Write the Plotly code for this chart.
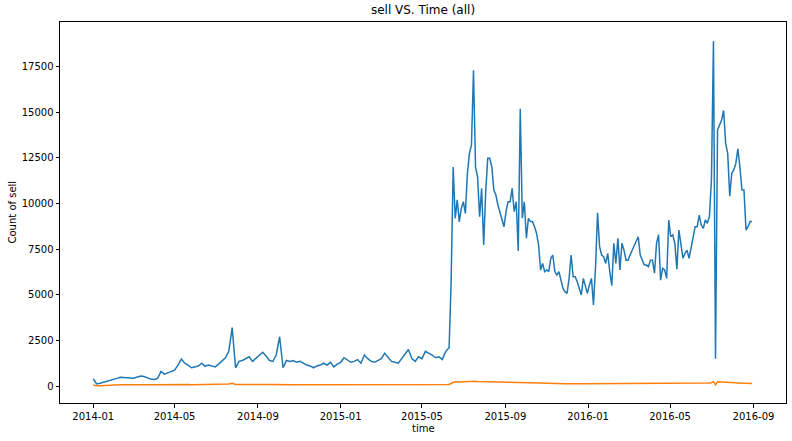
import pandas as pd
import plotly.graph_objects as go

# blue line, read every 5 days from 2014-01-01 up to 2015-06-10
sell_early = [
    400, 110, 150, 200, 250, 300, 330, 420, 480, 460,
    440, 450, 430, 500, 550, 520, 430, 380, 360, 420,
    800, 650, 720, 780, 870, 1150, 1480, 1250, 1150, 1000,
    1050, 1100, 1250, 1080, 1150, 1080, 1050, 1200, 1400, 1550,
    1900, 3200, 1000, 1350, 1400, 1500, 1600, 1350, 1500, 1650,
    1850, 1650, 1400, 1350, 1700, 2700, 1000, 1400, 1350, 1400,
    1300, 1350, 1250, 1150, 1100, 1000, 1100, 1150, 1250, 1150,
    1300, 1050, 1200, 1300, 1550, 1400, 1300, 1350, 1450, 1250,
    1700, 1500, 1350, 1300, 1400, 1500, 1800, 1600, 1350, 1300,
    1250, 1500, 1750, 2000, 1500, 1350, 1600, 1500, 1900, 1800,
    1700, 1550, 1600, 1450, 1900, 2100,
]
# blue line, read every 3 days from 2015-06-13 (it gets noisy there)
sell_late = [
    5700, 12000, 9190, 10200, 9000, 9740, 10100, 9460, 11650, 12750,
    13210, 17300, 12000, 11470, 9280, 10830, 7730, 10650, 12480, 12480,
    12020, 10740, 10470, 9920, 9560, 9190, 8730, 9560, 10100, 10100,
    10830, 9560, 10100, 7400, 15200, 9200, 10100, 8100, 9190, 9010,
    9010, 8730, 8370, 7730, 6360, 6720, 6270, 6360, 6270, 7000,
    7180, 6270, 6080, 6270, 5810, 5350, 5170, 5080, 5900, 7180,
    5990, 5990, 5720, 5350, 4990, 5900, 5440, 5080, 5540, 5900,
    4440, 6500, 9500, 7640, 7180, 7090, 6720, 7270, 6270, 5500,
    7820, 6720, 8100, 6360, 7820, 7450, 6900, 6900, 7180, 7450,
    7730, 8000, 8180, 7180, 6900, 6630, 6630, 6540, 6900, 6900,
    6180, 7820, 8300, 5800, 6450, 6360, 5900, 9100, 8180, 8280,
    7820, 6400, 8550, 7640, 7000, 7270, 7450, 7000, 7550, 8280,
    8730, 8730, 9370, 8820, 8640, 9100, 8920, 9280, 11290, 18900,
    1500, 14030, 14300, 14580, 15100, 13300, 12750, 10400, 11660, 11840,
    12200, 13000, 12000, 10740, 10740, 8550, 8730, 9010, 9010,
]

# orange line on the same two grids
other_early = [
    60, 10, 15, 30, 50, 60, 65, 70, 70, 65,
    70, 65, 70, 75, 70, 65, 70, 70, 65, 70,
    70, 75, 70, 75, 80, 85, 80, 75, 80, 75,
    80, 75, 80, 80, 85, 80, 85, 90, 90, 95,
    110, 150, 80, 85, 80, 85, 90, 85, 80, 85,
    80, 85, 80, 80, 85, 100, 75, 80, 75, 70,
    70, 65, 70, 65, 60, 65, 60, 65, 60, 65,
    60, 65, 60, 65, 70, 65, 60, 65, 70, 65,
    70, 65, 60, 65, 70, 65, 70, 75, 70, 65,
    70, 75, 70, 75, 70, 75, 70, 75, 80, 75,
    80, 75, 80, 75, 85, 90,
]
other_late = [
    150, 210, 230, 220, 225, 230, 240, 235, 245, 250,
    260, 280, 260, 245, 235, 230, 225, 240, 235, 230,
    225, 220, 215, 210, 205, 200, 195, 200, 205, 200,
    195, 190, 185, 200, 190, 185, 180, 180, 175, 175,
    170, 170, 165, 160, 155, 155, 150, 150, 150, 145,
    145, 140, 140, 140, 135, 135, 130, 130, 135, 130,
    130, 130, 125, 125, 125, 120, 120, 120, 125, 125,
    120, 140, 150, 140, 135, 135, 130, 130, 130, 125,
    130, 130, 125, 130, 130, 125, 125, 130, 130, 125,
    130, 130, 125, 125, 125, 120, 125, 125, 130, 125,
    125, 130, 130, 125, 125, 125, 130, 130, 130, 135,
    130, 135, 135, 130, 135, 135, 140, 140, 140, 145,
    145, 150, 150, 150, 155, 155, 160, 165, 180, 240,
    60, 230, 220, 210, 200, 200, 190, 185, 180, 180,
    175, 170, 165, 160, 155, 150, 145, 140, 140,
]

dates = pd.date_range("2014-01-01", periods=len(sell_early), freq="5D").append(
    pd.date_range("2015-06-13", periods=len(sell_late), freq="3D"))
sell = sell_early + sell_late
other = other_early + other_late

y_ticks = [0, 2500, 5000, 7500, 10000, 12500, 15000, 17500]

fig = go.Figure()
fig.add_trace(go.Scatter(x=dates, y=sell, mode="lines",
                         line=dict(color="#1f77b4", width=1.5)))
fig.add_trace(go.Scatter(x=dates, y=other, mode="lines",
                         line=dict(color="#ff7f0e", width=1.5)))

axis_style = dict(showline=True, mirror=True, linecolor="black", linewidth=1,
                  ticks="outside", ticklen=3.5, tickcolor="black",
                  showgrid=False, zeroline=False, automargin=False,
                  tickfont=dict(size=10, color="black"))

fig.update_layout(
    width=792, height=441,
    margin=dict(l=60, r=6, t=22, b=38),
    paper_bgcolor="white", plot_bgcolor="white",
    font=dict(family="DejaVu Sans", color="black"),
    showlegend=False,
    title=dict(text="sell VS. Time (all)", x=0.5, xref="paper",
               y=1 - 10 / 441, yref="container", yanchor="middle",
               font=dict(size=12, color="black")),
)
fig.update_xaxes(axis_style, range=["2013-11-13", "2016-10-19"],
                 tick0="2014-01-01", dtick="M4", tickformat="%Y-%m")
fig.update_yaxes(axis_style, range=[-930, 19950], tickvals=y_ticks,
                 tickformat="d")

# axis titles placed like the matplotlib original
fig.add_annotation(text="time", xref="paper", yref="paper", x=0.5, y=0,
                   yshift=-25, yanchor="middle", showarrow=False,
                   font=dict(size=10))
fig.add_annotation(text="Count of sell", xref="paper", yref="paper", x=0, y=0.5,
                   xshift=-48, xanchor="center", textangle=-90, showarrow=False,
                   font=dict(size=10))

# drop the default 8px body margin so the figure sits at the page corner
fig.write_html("out.html", config={"displayModeBar": False},
               post_script="document.body.style.margin='0';")
